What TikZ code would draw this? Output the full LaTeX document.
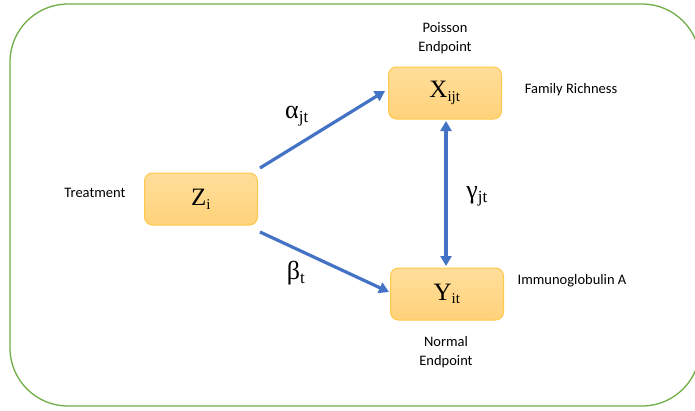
\documentclass[tikz,border=0pt]{standalone}
\usepackage{fontspec}
\setmainfont{Carlito}
\newfontfamily\grk{Liberation Serif}
\usetikzlibrary{arrows.meta}
\definecolor{frameg}{HTML}{70AD47}
\definecolor{boxline}{HTML}{FFC84A}
\definecolor{boxtop}{HTML}{FFDE9A}
\definecolor{boxbot}{HTML}{FFD27A}
\definecolor{arrowb}{HTML}{4472C4}
\tikzset{
  varbox/.style={draw=boxline, line width=1pt, rounded corners=8pt,
    top color=boxtop, bottom color=boxbot, minimum width=113pt, minimum height=52pt,
    font=\grk\fontsize{25}{25}\selectfont, inner sep=0pt},
  lbl/.style={font=\fontsize{14.5}{19}\selectfont, align=center, text=black},
  greek/.style={font=\grk\fontsize{26}{26}\selectfont},
  conn/.style={draw=arrowb, line width=3.2pt, -{Triangle[length=10pt,width=11pt]}},
}
\begin{document}
\begin{tikzpicture}[x=1pt,y=-1pt]
\useasboundingbox (0,0) rectangle (695,410);
\begin{scope}
\clip (0,0) rectangle (695,410);
\draw[frameg, line width=1.3pt, rounded corners=58pt] (10,4) rectangle (700,406);
\end{scope}
\node[varbox] (z) at (201,199) {Z\textsubscript{\fontsize{15}{15}\selectfont i}};
\node[varbox] (x) at (445,93) {X\textsubscript{\fontsize{15}{15}\selectfont ijt}};
\node[varbox] (y) at (447,294) {Y\textsubscript{\fontsize{15}{15}\selectfont it}};
\coordinate (z1) at (260,168);
\coordinate (x1) at (385,91);
\coordinate (z2) at (260,232);
\coordinate (y1) at (389,292);
\coordinate (xb) at (446,121);
\coordinate (yt) at (446,266);
\draw[conn] (z1) -- (x1);
\draw[conn] (z2) -- (y1);
\draw[conn, {Triangle[length=10pt,width=11pt]}-{Triangle[length=10pt,width=11pt]}] (xb) -- (yt);
\node[greek] (a) at (297,116) {α\textsubscript{\fontsize{17}{17}\selectfont jt}};
\node[greek] (b) at (296,273) {β\textsubscript{\fontsize{17}{17}\selectfont t}};
\node[greek] (g) at (477,196) {γ\textsubscript{\fontsize{17}{17}\selectfont jt}};
\node[lbl] (treat) at (95,193) {Treatment};
\node[lbl] (pois) at (445,38) {Poisson\\Endpoint};
\node[lbl] (fam) at (571,90) {Family Richness};
\node[lbl] (imm) at (572,281) {Immunoglobulin A};
\node[lbl] (norm) at (446,352) {Normal\\Endpoint};
\end{tikzpicture}
\end{document}
